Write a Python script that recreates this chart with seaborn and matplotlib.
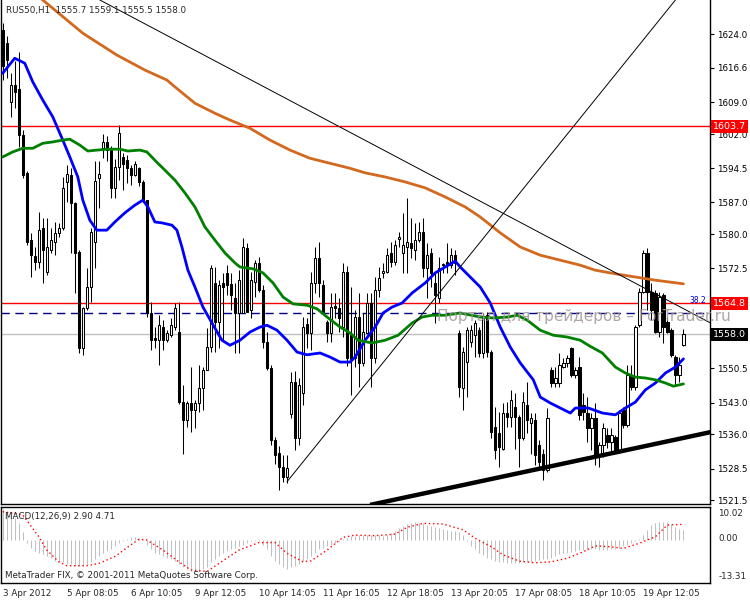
import matplotlib
matplotlib.use('Agg')
import matplotlib.pyplot as plt
import matplotlib.transforms as mtransforms
import seaborn as sns
import numpy as np

# ---- H1 candles, RUS50 (bar index 0 = 3 Apr 2012) ----
opens = [1625.0, 1622.0, 1609.1, 1612.8, 1612.0, 1601.8, 1593.4, 1578.7, 1575.2, 1574.0,
         1581.3, 1571.8, 1576.5, 1578.4, 1580.2, 1581.3, 1591.5, 1593.0, 1586.8, 1576.2,
         1554.9, 1563.7, 1568.5, 1578.4, 1592.3, 1598.9, 1600.3, 1598.5, 1590.1, 1594.8,
         1597.0, 1596.3, 1594.5, 1593.0, 1594.5, 1591.5, 1587.5, 1562.7, 1557.2, 1556.7,
         1559.6, 1556.7, 1557.8, 1559.6, 1558.5, 1543.1, 1539.2, 1542.9, 1541.4, 1542.9,
         1546.2, 1550.1, 1555.2, 1569.3, 1560.7, 1569.3, 1571.5, 1569.0, 1566.0, 1562.7,
         1562.7, 1577.0, 1563.3, 1569.5, 1573.7, 1567.7, 1556.3, 1550.6, 1534.8, 1531.9,
         1528.8, 1526.6, 1540.5, 1547.5, 1535.2, 1545.0, 1560.3, 1558.3, 1569.3, 1574.8,
         1568.8, 1560.7, 1558.3, 1564.2, 1563.8, 1559.6, 1571.7, 1557.8, 1552.8, 1561.8,
         1551.7, 1558.3, 1564.9, 1552.8, 1567.7, 1571.5, 1571.7, 1575.9, 1574.0, 1579.0,
         1575.9, 1577.2, 1578.0, 1576.5, 1578.7, 1580.5, 1572.6, 1575.9, 1569.3, 1566.0,
         1573.2, 1573.9, 1573.2, 1575.4, 1558.2, 1546.1, 1552.0, 1556.4, 1557.8, 1559.0,
         1553.8, 1562.2, 1554.2, 1537.7, 1536.2, 1532.9, 1540.6, 1539.9, 1542.1, 1539.9,
         1535.1, 1542.4, 1538.5, 1539.2, 1533.7, 1531.8, 1528.2, 1550.2, 1547.2, 1547.2,
         1550.9, 1551.6, 1554.9, 1549.1, 1550.9, 1542.5, 1540.7, 1537.4, 1539.6, 1531.5,
         1533.7, 1535.9, 1534.4, 1535.5, 1532.2, 1541.4, 1538.1, 1549.1, 1546.5, 1560.1,
         1567.4, 1575.8, 1567.4, 1567.0, 1558.6, 1566.7, 1560.8, 1559.0, 1553.1, 1549.1,
         1555.7]
highs = [1626.5, 1623.5, 1615.4, 1618.0, 1620.0, 1603.0, 1594.0, 1580.2, 1577.3, 1584.9,
         1583.5, 1583.5, 1581.3, 1582.8, 1582.4, 1592.6, 1595.2, 1594.5, 1587.2, 1576.5,
         1564.0, 1572.5, 1581.3, 1596.0, 1596.0, 1602.0, 1601.5, 1599.5, 1596.5, 1604.0,
         1597.8, 1597.4, 1595.2, 1596.0, 1594.8, 1591.9, 1587.5, 1565.2, 1559.7, 1562.2,
         1561.2, 1559.0, 1561.5, 1564.8, 1565.0, 1546.8, 1543.3, 1550.9, 1543.6, 1551.3,
         1550.9, 1559.3, 1573.2, 1572.9, 1569.9, 1571.4, 1573.2, 1571.4, 1569.2, 1572.1,
         1579.1, 1578.0, 1571.8, 1574.3, 1575.1, 1568.8, 1558.6, 1551.3, 1535.5, 1533.5,
         1531.4, 1531.4, 1549.8, 1550.0, 1548.3, 1561.9, 1561.5, 1571.8, 1577.3, 1578.4,
         1569.9, 1561.1, 1567.0, 1567.0, 1565.9, 1573.6, 1573.0, 1568.5, 1563.3, 1567.0,
         1562.6, 1567.0, 1567.0, 1570.6, 1572.9, 1573.6, 1576.9, 1578.4, 1578.7, 1580.6,
         1584.6, 1587.9, 1583.5, 1582.4, 1582.8, 1583.5, 1578.0, 1576.9, 1571.4, 1575.1,
         1573.6, 1578.0, 1576.9, 1576.5, 1558.9, 1555.3, 1559.7, 1560.0, 1561.1, 1559.7,
         1562.6, 1563.0, 1554.5, 1542.1, 1541.0, 1542.8, 1543.2, 1545.8, 1545.0, 1540.3,
         1545.4, 1547.6, 1540.6, 1540.6, 1534.8, 1532.9, 1541.7, 1550.9, 1550.9, 1553.8,
         1552.7, 1553.5, 1555.3, 1550.9, 1553.1, 1545.0, 1544.3, 1540.7, 1542.8, 1534.4,
         1538.5, 1537.4, 1537.4, 1535.9, 1541.4, 1542.1, 1551.3, 1551.3, 1560.1, 1568.1,
         1576.5, 1576.9, 1569.2, 1567.8, 1567.4, 1567.0, 1561.9, 1559.3, 1553.5, 1553.1,
         1559.1]
lows = [1614.0, 1614.3, 1605.8, 1607.7, 1599.2, 1592.3, 1577.6, 1570.7, 1572.1, 1572.5,
        1569.2, 1571.0, 1575.8, 1575.4, 1579.5, 1580.9, 1587.1, 1575.8, 1567.0, 1553.8,
        1553.5, 1563.3, 1565.2, 1572.5, 1585.7, 1596.7, 1596.0, 1588.0, 1588.0, 1592.0,
        1589.7, 1591.2, 1590.8, 1592.7, 1590.5, 1587.2, 1561.9, 1554.6, 1555.0, 1551.3,
        1554.6, 1556.4, 1557.5, 1559.0, 1542.7, 1531.8, 1537.7, 1536.6, 1537.4, 1541.0,
        1541.4, 1550.1, 1554.2, 1554.2, 1554.9, 1556.8, 1566.6, 1563.3, 1553.8, 1553.8,
        1562.6, 1563.0, 1561.5, 1566.3, 1567.4, 1554.9, 1550.1, 1533.7, 1529.6, 1523.8,
        1525.6, 1525.4, 1539.6, 1532.6, 1533.7, 1542.5, 1555.0, 1554.6, 1567.0, 1566.3,
        1562.6, 1556.4, 1556.4, 1561.5, 1558.6, 1557.5, 1551.0, 1544.7, 1550.9, 1546.5,
        1551.0, 1558.0, 1546.5, 1551.6, 1566.3, 1570.3, 1571.4, 1572.9, 1573.2, 1577.3,
        1571.4, 1571.4, 1574.7, 1574.3, 1578.4, 1570.7, 1565.9, 1568.5, 1560.4, 1564.8,
        1571.4, 1571.4, 1572.5, 1571.1, 1544.3, 1541.4, 1544.3, 1555.3, 1553.1, 1553.1,
        1552.7, 1553.1, 1535.1, 1530.7, 1528.9, 1532.6, 1537.7, 1537.7, 1532.9, 1528.9,
        1534.8, 1536.2, 1531.8, 1529.3, 1528.5, 1526.0, 1527.8, 1546.5, 1546.5, 1546.5,
        1550.5, 1550.9, 1548.7, 1548.4, 1539.2, 1539.2, 1534.4, 1532.6, 1529.3, 1528.9,
        1531.1, 1533.0, 1531.9, 1531.9, 1531.9, 1537.4, 1537.7, 1545.8, 1545.8, 1559.7,
        1567.0, 1563.4, 1561.2, 1558.2, 1557.5, 1556.0, 1558.2, 1553.1, 1546.9, 1547.6,
        1555.5]
closes = [1617.0, 1618.3, 1612.8, 1611.3, 1601.8, 1593.0, 1578.3, 1575.4, 1574.0, 1580.9,
          1576.5, 1577.3, 1578.7, 1580.2, 1581.3, 1590.1, 1593.2, 1586.8, 1575.8, 1554.9,
          1563.7, 1568.5, 1580.6, 1591.6, 1593.3, 1600.3, 1598.5, 1590.1, 1594.8, 1602.2,
          1595.5, 1594.5, 1593.0, 1595.4, 1591.5, 1587.5, 1562.7, 1556.7, 1556.7, 1560.0,
          1556.7, 1558.3, 1560.0, 1563.8, 1543.1, 1539.2, 1542.9, 1541.4, 1542.9, 1546.2,
          1550.1, 1555.2, 1572.6, 1560.7, 1568.8, 1568.4, 1568.8, 1566.6, 1562.7, 1570.0,
          1577.2, 1563.0, 1570.0, 1573.7, 1567.7, 1556.3, 1550.6, 1534.8, 1531.5, 1528.8,
          1526.6, 1528.6, 1547.5, 1535.2, 1546.8, 1559.6, 1558.3, 1569.3, 1574.8, 1569.3,
          1562.9, 1558.3, 1564.0, 1563.8, 1561.6, 1571.7, 1552.8, 1552.5, 1561.8, 1551.7,
          1558.5, 1564.9, 1552.8, 1567.7, 1570.4, 1572.0, 1575.4, 1574.0, 1577.6, 1579.4,
          1577.6, 1578.3, 1577.0, 1578.7, 1580.5, 1572.6, 1575.4, 1571.5, 1566.6, 1572.6,
          1573.5, 1573.4, 1575.4, 1573.7, 1546.5, 1554.2, 1558.9, 1558.9, 1560.4, 1553.8,
          1561.9, 1554.2, 1536.6, 1532.6, 1533.3, 1540.6, 1539.9, 1543.6, 1539.9, 1535.1,
          1543.2, 1539.2, 1539.5, 1531.5, 1530.0, 1528.2, 1539.5, 1547.2, 1548.3, 1551.3,
          1551.6, 1552.7, 1549.1, 1550.2, 1540.3, 1541.0, 1537.4, 1539.6, 1531.5, 1533.7,
          1537.4, 1534.4, 1535.9, 1532.2, 1540.7, 1538.1, 1549.1, 1546.5, 1559.7, 1567.4,
          1575.8, 1567.4, 1563.4, 1558.6, 1566.3, 1559.7, 1558.6, 1553.5, 1549.1, 1551.3,
          1558.0]

# ---- moving averages (bar index, price) ----
fast_idx = [0, 3, 5.5, 7.5, 10, 12.5, 15, 16.75, 18.75, 20, 21.75, 23.5, 26, 28, 30.5, 33, 35,
            36.25, 38, 39.75, 42.25, 43.5, 44.75, 46.25, 48, 50, 52.25, 54.75, 56.75, 59.25,
            61.75, 64.25, 66, 68.5, 71, 73.5, 76, 79.25, 81.75, 84.25, 86.75, 88, 90.5, 93, 95,
            97.25, 99.75, 102.25, 105.5, 108, 110.5, 113, 114.25, 119.25, 121.75, 124.25,
            126.75, 129.25, 132.5, 134.25, 136.75, 139.25, 141.75, 143, 146.25, 149.75, 153,
            155.5, 158, 160.5, 163, 165.5, 168, 170]
fast_ma = [1615.4, 1618.7, 1617.6, 1613.5, 1609.5, 1605.8, 1600.7, 1597.0, 1592.6, 1587.5,
           1583.1, 1580.9, 1580.9, 1582.7, 1584.7, 1586.4, 1587.5, 1586.0, 1582.7, 1582.5,
           1582.0, 1580.9, 1577.2, 1572.1, 1568.4, 1564.0, 1560.5, 1556.7, 1555.6, 1556.7,
           1558.5, 1559.6, 1560.0, 1558.9, 1556.7, 1554.1, 1553.5, 1553.9, 1553.0, 1551.9,
           1551.9, 1553.0, 1556.7, 1559.6, 1562.7, 1564.0, 1564.9, 1567.1, 1569.3, 1571.5,
           1572.8, 1574.1, 1572.8, 1568.4, 1564.9, 1559.6, 1555.2, 1551.7, 1548.0, 1544.2,
           1542.9, 1541.8, 1540.7, 1541.8, 1541.8, 1540.7, 1540.3, 1541.8, 1543.1, 1545.8,
           1547.3, 1549.5, 1550.8, 1552.6]

mid_idx = [0, 2.5, 5, 7.5, 10, 12.5, 15, 16.75, 19.25, 21.25, 23.5, 26, 29.25, 31.25, 34.25,
           36, 38.75, 40.5, 43, 45.5, 48, 50.5, 53, 55.5, 58, 59.25, 62.5, 65, 67.5, 70, 72.5,
           76, 78.5, 81, 84.25, 86.75, 88.75, 92.25, 95.5, 98.75, 102.25, 104.75, 107.25,
           110.5, 114.25, 119.25, 122.5, 126, 128.5, 131, 134.25, 137.5, 141, 144.25, 146.25,
           149.75, 153, 155.5, 158, 160.5, 163, 165.5, 167.5, 170]
mid_ma = [1597.0, 1598.1, 1598.9, 1598.9, 1600.0, 1600.3, 1600.7, 1600.9, 1599.6, 1598.3,
          1598.5, 1598.7, 1598.7, 1598.3, 1598.5, 1598.1, 1595.6, 1594.1, 1591.9, 1589.1,
          1586.0, 1581.6, 1578.7, 1575.9, 1573.7, 1572.8, 1572.4, 1571.5, 1569.3, 1566.2,
          1564.7, 1564.4, 1563.6, 1561.8, 1559.6, 1558.3, 1556.7, 1556.1, 1556.7, 1557.8,
          1560.5, 1561.8, 1562.2, 1562.2, 1562.7, 1561.8, 1561.6, 1561.8, 1562.2, 1561.1,
          1558.9, 1557.8, 1557.4, 1556.7, 1555.6, 1553.9, 1550.8, 1549.5, 1548.6, 1548.4,
          1548.0, 1547.3, 1546.6, 1547.1]

slow_idx = [0, 10, 20, 28.5, 35.5, 41, 43, 48, 53, 56.75, 61.75, 66.75, 71.75, 76.75, 81.75,
            86.75, 90.5, 95.5, 100.5, 105.5, 110.5, 115.5, 119.25, 124.25, 129.25, 134.25,
            139.25, 144.25, 148, 153, 158, 163, 170]
slow_ma = [1638.0, 1631.5, 1624.2, 1619.4, 1616.1, 1613.9, 1612.4, 1608.8, 1606.6, 1605.1,
           1603.3, 1600.7, 1598.5, 1596.7, 1595.6, 1594.5, 1593.5, 1592.6, 1591.5, 1590.2,
           1588.2, 1586.0, 1583.8, 1580.3, 1577.2, 1575.4, 1574.3, 1573.2, 1572.1, 1571.3,
           1570.6, 1569.9, 1569.1]

# ---- drawn objects ----
red_levels = [1603.7, 1564.8]
fibo_level = 1562.7
bid_price = 1558.0
desc_trend = ([24.25, 176.75], [1631.5, 1560.5])
asc_trend = ([71, 168], [1525.6, 1631.5])
support_trend = ([91.75, 176.75], [1520.5, 1536.5])

price_ticks = [1624.0, 1616.6, 1609.0, 1602.0, 1594.5, 1587.0, 1580.0, 1572.5, 1550.5,
               1543.0, 1536.0, 1528.5, 1521.5]

# ---- MACD(12,26,9) ----
macd_hist = [9.5, 8.5, 7.5, 6.5, 5.0, 2.5, -1.0, -2.5, -3.5, -4.0,
             -4.5, -5.0, -5.5, -6.5, -7.0, -7.0, -7.5, -7.5, -8.0, -8.0,
             -8.0, -7.5, -7.0, -6.0, -5.0, -4.0, -3.5, -3.0, -2.0, -1.0,
             -0.5, 0.3, 0.8, 0.8, 0.5, 0.2, -1.5, -3.0, -4.0, -4.5,
             -5.0, -5.5, -6.0, -6.5, -7.5, -8.5, -9.0, -9.5, -9.5, -9.5,
             -9.0, -8.5, -7.0, -6.0, -5.0, -4.0, -3.5, -3.0, -2.5, -2.0,
             -1.5, -1.0, -0.5, -0.3, -0.5, -1.5, -3.0, -5.0, -6.5, -7.5,
             -8.5, -9.0, -8.5, -8.0, -7.5, -6.5, -6.0, -5.0, -4.0, -3.0,
             -2.5, -2.0, -1.5, -1.0, -0.5, 0.3, 0.5, 1.0, 1.2, 1.3,
             1.4, 1.5, 1.5, 1.4, 1.3, 1.2, 1.5, 2.0, 2.8, 3.5,
             4.2, 4.8, 5.2, 5.3, 5.2, 5.0, 4.6, 4.2, 3.8, 3.5,
             3.2, 3.0, 2.8, 2.6, 2.4, 1.5, -0.5, -2.0, -3.0, -4.0,
             -4.8, -5.5, -6.0, -6.5, -6.8, -7.0, -7.2, -7.3, -7.3, -7.2,
             -7.0, -7.0, -6.8, -6.5, -6.3, -6.0, -5.8, -5.5, -5.0, -4.5,
             -4.2, -4.0, -3.8, -3.5, -3.3, -3.2, -3.2, -3.0, -3.0, -3.2,
             -3.3, -3.2, -3.0, -2.8, -2.5, -2.0, -1.5, -1.0, -0.5, 0.3,
             1.5, 3.0, 4.5, 5.2, 5.5, 5.5, 5.3, 4.8, 4.0, 3.4,
             2.9]
signal_idx = [0, 5, 9, 11, 14, 16, 21, 24, 28, 32, 34, 36, 40, 44, 47, 51, 54, 59, 64, 68,
              71, 75, 77, 81, 85, 88, 93, 98, 101, 105, 110, 115, 118, 122, 125, 129, 133,
              137, 141, 145, 148, 152, 155, 159, 163, 166, 170]
signal_val = [8.6, 7.6, 0.9, -3.2, -6.8, -8.0, -8.0, -7.3, -5.2, -1.6, 0.1, -0.1, -3.2, -6.8,
              -9.3, -9.8, -7.3, -3.2, -0.9, -0.9, -4.2, -6.8, -6.5, -3.2, 0.7, 1.4, 1.2, 1.7,
              3.8, 5.0, 4.8, 3.0, 0.4, -2.2, -4.7, -6.6, -7.1, -6.8, -5.7, -3.7, -1.9, -2.2,
              -2.7, -1.1, 0.9, 4.5, 4.7]

date_idx = [0, 16, 32, 48, 64, 80, 96, 112, 128, 144, 160]
date_labels = ['3 Apr 2012', '5 Apr 08:05', '6 Apr 10:05', '9 Apr 12:05', '10 Apr 14:05',
               '11 Apr 16:05', '12 Apr 18:05', '13 Apr 20:05', '17 Apr 08:05',
               '18 Apr 10:05', '19 Apr 12:05']

sns.set_style('white')
plt.rcParams['font.family'] = ['DejaVu Sans']
FS = 6.3

fig = plt.figure(figsize=(7.5, 6), dpi=100)
ax = fig.add_axes([0.0015, 0.16, 0.945, 0.84])
ax2 = fig.add_axes([0.0015, 0.0283, 0.945, 0.1267])

n = len(closes)
idx = np.arange(n)
o = np.array(opens)
c = np.array(closes)
up = c >= o

# wicks, then bodies on top
ax.vlines(idx, lows, highs, color='black', linewidth=0.75, zorder=3)
ax.bar(idx, np.abs(c - o), bottom=np.minimum(o, c), width=0.6,
       color=np.where(up, 'white', 'black'), edgecolor='black', linewidth=0.75, zorder=4)

sns.lineplot(x=fast_idx, y=fast_ma, ax=ax, color='#0000ff', linewidth=2, zorder=5)
sns.lineplot(x=mid_idx, y=mid_ma, ax=ax, color='#008000', linewidth=2, zorder=5)
sns.lineplot(x=slow_idx, y=slow_ma, ax=ax, color='#d2691e', linewidth=2, zorder=5)

for lv in red_levels:
    ax.axhline(lv, color='#ff0000', linewidth=1, zorder=2)
ax.axhline(fibo_level, color='#000080', linewidth=1, dashes=(6, 4), zorder=2)
ax.axhline(bid_price, color='#c0c0c0', linewidth=1, zorder=1)

ax.plot(*desc_trend, color='black', linewidth=0.7, zorder=6)
ax.plot(*asc_trend, color='black', linewidth=0.7, zorder=6)
ax.plot(*support_trend, color='black', linewidth=3.2, zorder=6, solid_capstyle='butt')

ax.set_xlim(-0.4, 176.6)
ax.set_ylim(1520.7, 1631.5)
ax.set_xticks([])
ax.yaxis.tick_right()
ax.set_yticks(price_ticks)
ax.set_yticklabels([f'{t:.1f}' for t in price_ticks], fontsize=FS)
ax.tick_params(axis='y', direction='out', length=3, width=0.8, pad=2, colors='black')
for side in ['left', 'bottom', 'right']:
    ax.spines[side].set_color('black')
    ax.spines[side].set_linewidth(1)
ax.spines['top'].set_visible(False)

# price tags on the right scale
tag_tr = mtransforms.blended_transform_factory(ax.transAxes, ax.transData)
for lv in red_levels:
    ax.text(1.004, lv, f'{lv:.1f}', transform=tag_tr, fontsize=FS + 0.5, color='white',
            va='center', ha='left', zorder=10, clip_on=False,
            bbox=dict(boxstyle='square,pad=0.2', facecolor='#ff0000', edgecolor='none'))
ax.text(1.004, bid_price, f'{bid_price:.1f}', transform=tag_tr, fontsize=FS + 0.5,
        color='white', va='center', ha='left', zorder=10, clip_on=False,
        bbox=dict(boxstyle='square,pad=0.2', facecolor='black', edgecolor='none'))
ax.text(171.6, fibo_level + 1.7, '38.2', fontsize=FS - 0.8, color='#0000cc',
        va='bottom', ha='left', zorder=7)

fig.text(6 / 750, 1 - 10 / 600, 'RUS50,H1  1555.7 1559.1 1555.5 1558.0', fontsize=FS,
         va='center', ha='left')
fig.text(437 / 750, 1 - 317 / 600, 'Портал для трейдеров – ForTrader.ru', fontsize=11,
         color='#a09696', alpha=0.85, va='center', ha='left', zorder=20)

# MACD window
ax2.vlines(idx, 0, macd_hist, color='#c0c0c0', linewidth=0.75, zorder=2)
ax2.plot(signal_idx, signal_val, color='#ff0000', linewidth=1, linestyle=(0, (1, 2)), zorder=3)
ax2.set_xlim(-0.4, 176.6)
ax2.set_ylim(-13.31, 10.02)
ax2.set_yticks([])
for side in ax2.spines:
    ax2.spines[side].set_color('black')
    ax2.spines[side].set_linewidth(1)
ax2.set_xticks(date_idx)
ax2.set_xticklabels(date_labels, fontsize=FS, ha='left')
ax2.tick_params(axis='x', direction='out', length=3, width=0.8, pad=1.5)
ax2.text(0.006, 0.88, 'MACD(12,26,9) 2.90 4.71', transform=ax2.transAxes, fontsize=FS,
         va='center', ha='left')
ax2.text(0.006, 0.1, 'MetaTrader FIX, © 2001-2011 MetaQuotes Software Corp.',
         transform=ax2.transAxes, fontsize=FS, va='center', ha='left')
for val, yy in [('10.02', 0.92), ('0.00', 0.58), ('-13.31', 0.08)]:
    ax2.text(1.012, yy, val, transform=ax2.transAxes, fontsize=FS, va='center', ha='left')

fig.savefig('out.png', dpi=100)
